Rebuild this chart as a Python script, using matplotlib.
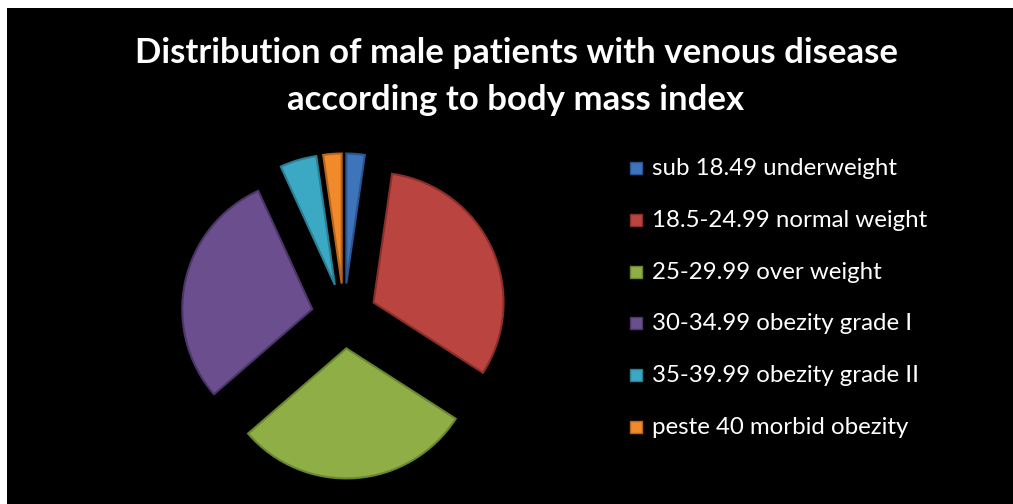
import numpy as np
import matplotlib.pyplot as plt
from matplotlib.patches import Rectangle

# patient counts per BMI class
labels = ["sub 18.49 underweight", "18.5-24.99 normal weight", "25-29.99 over weight",
          "30-34.99 obezity grade I", "35-39.99 obezity grade II", "peste 40 morbid obezity"]
counts = [1, 14, 13, 13, 2, 1]
colors = ["#3e74ba", "#b94440", "#8fae45", "#6b4e8e", "#3ba8c4", "#f08a2b"]
edges = ["#2a5590", "#8a2e2b", "#6a8630", "#4c3568", "#2a7f95", "#b8641c"]
title_lines = ["Distribution of male patients with venous disease",
               "according to body mass index"]

W, H = 1013, 504
fig = plt.figure(figsize=(W / 100, H / 100), dpi=100, facecolor="white")

# black chart area (thin white border left/top)
fig.patches.append(Rectangle((7 / W, 0), 1 - 7 / W, 1 - 8 / H, transform=fig.transFigure,
                             facecolor="black", edgecolor="none", zorder=-1))

for line, base in zip(title_lines, [63, 110]):
    fig.text(516 / W, 1 - base / H, line, ha="center", va="baseline", color="white",
             fontsize=25, fontweight="bold", family="Lato")

# pie axes: centre at (344, 316) px, radius 130 px
L = 1.45
side = 2 * L * 130
cx, cy = 344, 316
ax = fig.add_axes([(cx - side / 2) / W, (H - cy - side / 2) / H, side / W, side / H])
ax.set_facecolor("none")
wedges, _ = ax.pie(counts, colors=colors, startangle=90, counterclock=False,
                   explode=[0.25] * len(counts),
                   wedgeprops=dict(linewidth=1.5))
for w, ec in zip(wedges, edges):
    w.set_edgecolor(ec)
ax.set_xlim(-L, L)
ax.set_ylim(-L, L)
ax.set_aspect("equal")
ax.axis("off")

# legend
y0, dy = 168, 51.8
for i, (lab, c, ec) in enumerate(zip(labels, colors, edges)):
    y = y0 + i * dy
    fig.patches.append(Rectangle(((636 - 6) / W, (H - y - 6) / H), 12 / W, 12 / H,
                                 transform=fig.transFigure, facecolor=c, edgecolor=ec,
                                 linewidth=1, zorder=2))
    fig.text(652 / W, 1 - (y + 7) / H, lab, ha="left", va="baseline", color="white",
             fontsize=17.3, family="Lato")

fig.savefig("out.png", dpi=100, facecolor="white")
